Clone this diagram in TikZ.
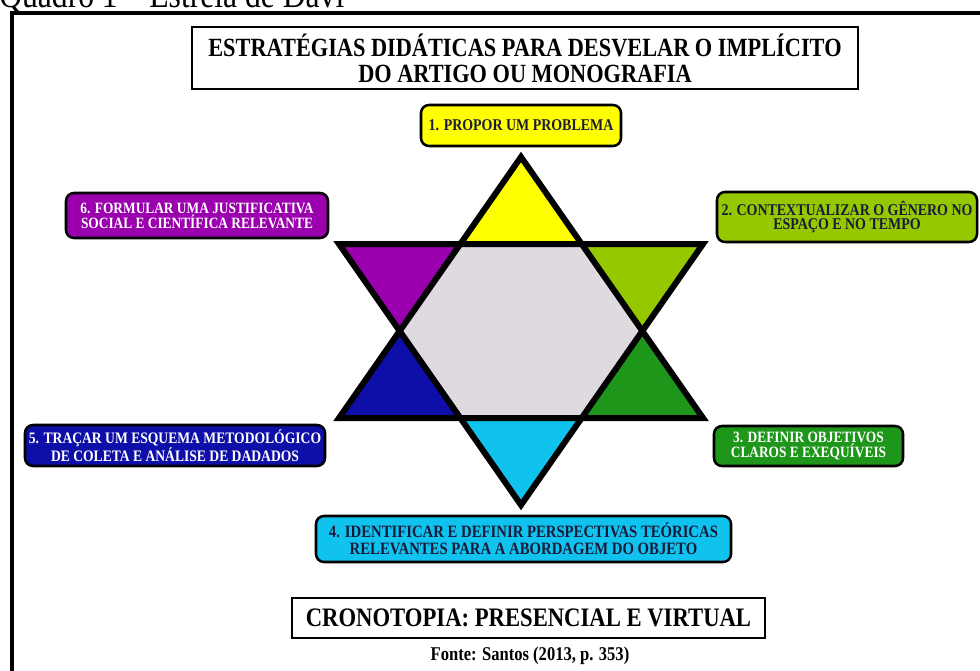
\documentclass[tikz,border=0pt]{standalone}
\usepackage{fontspec}
\setmainfont[FakeStretch=0.85]{Liberation Serif}
\definecolor{cyellow}{HTML}{FFFF00}
\definecolor{cygreen}{HTML}{96C800}
\definecolor{cgreen}{HTML}{1E961A}
\definecolor{ccyan}{HTML}{10C2EE}
\definecolor{cblue}{HTML}{0E0EA8}
\definecolor{cpurple}{HTML}{9A00AE}
\definecolor{chex}{HTML}{DFDADF}
\definecolor{ctext}{HTML}{1A1A3A}
\tikzset{
  lbl/.style={draw=black, line width=1.9pt, rounded corners=6pt, align=center, inner sep=0pt},
  plainbox/.style={draw=black, line width=2.1pt, align=center, inner sep=0pt},
  starline/.style={draw=black, line width=4.5pt, miter limit=10, line join=miter},
}
\begin{document}
\begin{tikzpicture}[x=0.75pt,y=-0.75pt]
\useasboundingbox (0,0) rectangle (980,670);
\clip (0,0) rectangle (980,670);
% caption and frame
\node[anchor=base west, inner sep=0pt, font=\fontsize{27.9}{32}\selectfont] (cap) at (-1,8) {Quadro 1 – Estrela de Davi};
\draw[line width=3pt] (12,680) -- (12,13.5) -- (995,13.5);
% title
\node[plainbox, minimum width=499.5pt, minimum height=46.5pt, font=\bfseries\fontsize{19.7}{19.5}\selectfont] (title) at (525,58)
  {ESTRATÉGIAS DIDÁTICAS PARA DESVELAR O IMPLÍCITO\\DO ARTIGO OU MONOGRAFIA};
% star coordinates
\coordinate (T) at (521,157);
\coordinate (BL) at (339,418);
\coordinate (BR) at (703,418);
\coordinate (DL) at (339,244);
\coordinate (DR) at (703,244);
\coordinate (B) at (521,505);
\coordinate (h1) at (intersection of T--BL and DL--DR);
\coordinate (h2) at (intersection of T--BR and DL--DR);
\coordinate (h3) at (intersection of T--BR and DR--B);
\coordinate (h4) at (intersection of BL--BR and DR--B);
\coordinate (h5) at (intersection of BL--BR and DL--B);
\coordinate (h6) at (intersection of T--BL and DL--B);
\fill[chex] (h1) -- (h2) -- (h3) -- (h4) -- (h5) -- (h6) -- cycle;
\fill[cyellow] (T) -- (h2) -- (h1) -- cycle;
\fill[cygreen] (h2) -- (DR) -- (h3) -- cycle;
\fill[cgreen] (h3) -- (BR) -- (h4) -- cycle;
\fill[ccyan] (h4) -- (B) -- (h5) -- cycle;
\fill[cblue] (h5) -- (BL) -- (h6) -- cycle;
\fill[cpurple] (h6) -- (DL) -- (h1) -- cycle;
\draw[starline] (T) -- (BR) -- (BL) -- cycle;
\draw[starline] (DL) -- (DR) -- (B) -- cycle;
% labels
\node[lbl, fill=cyellow, text=ctext, minimum width=150pt, minimum height=30.75pt, font=\bfseries\fontsize{12.3}{12}\selectfont] (s1) at (521,125.5)
  {1. PROPOR UM PROBLEMA};
\node[lbl, fill=cygreen, text=ctext, minimum width=195pt, minimum height=37.5pt, font=\bfseries\fontsize{12.3}{11}\selectfont] (s2) at (847,217)
  {2. CONTEXTUALIZAR O GÊNERO NO\\ESPAÇO E NO TEMPO};
\node[lbl, fill=cgreen, text=white, minimum width=141.75pt, minimum height=30pt, font=\bfseries\fontsize{11.8}{11.5}\selectfont] (s3) at (808.5,446)
  {3. DEFINIR OBJETIVOS\\CLAROS E EXEQUÍVEIS};
\node[lbl, fill=ccyan, text=ctext, minimum width=311.25pt, minimum height=34.5pt, font=\bfseries\fontsize{13}{12.75}\selectfont] (s4) at (523.5,539)
  {4. IDENTIFICAR E DEFINIR PERSPECTIVAS TEÓRICAS\\RELEVANTES PARA A ABORDAGEM DO OBJETO};
\node[lbl, fill=cblue, text=white, minimum width=225pt, minimum height=30.75pt, font=\bfseries\fontsize{12}{11.3}\selectfont] (s5) at (175,445.5)
  {5. TRAÇAR UM ESQUEMA METODOLÓGICO\\DE COLETA E ANÁLISE DE DADADOS};
\node[lbl, fill=cpurple, text=white, minimum width=196.5pt, minimum height=33.75pt, font=\bfseries\fontsize{11.8}{11.3}\selectfont] (s6) at (197,215.5)
  {6. FORMULAR UMA JUSTIFICATIVA\\SOCIAL E CIENTÍFICA RELEVANTE};
% bottom
\node[plainbox, minimum width=354.75pt, minimum height=30pt, font=\bfseries\fontsize{20}{20}\selectfont] (crono) at (528.5,618)
  {CRONOTOPIA: PRESENCIAL E VIRTUAL};
\node[inner sep=0pt, font=\bfseries\fontsize{14.6}{14}\selectfont] (fonte) at (530,656)
  {Fonte: Santos (2013, p. 353)};
\end{tikzpicture}
\end{document}
